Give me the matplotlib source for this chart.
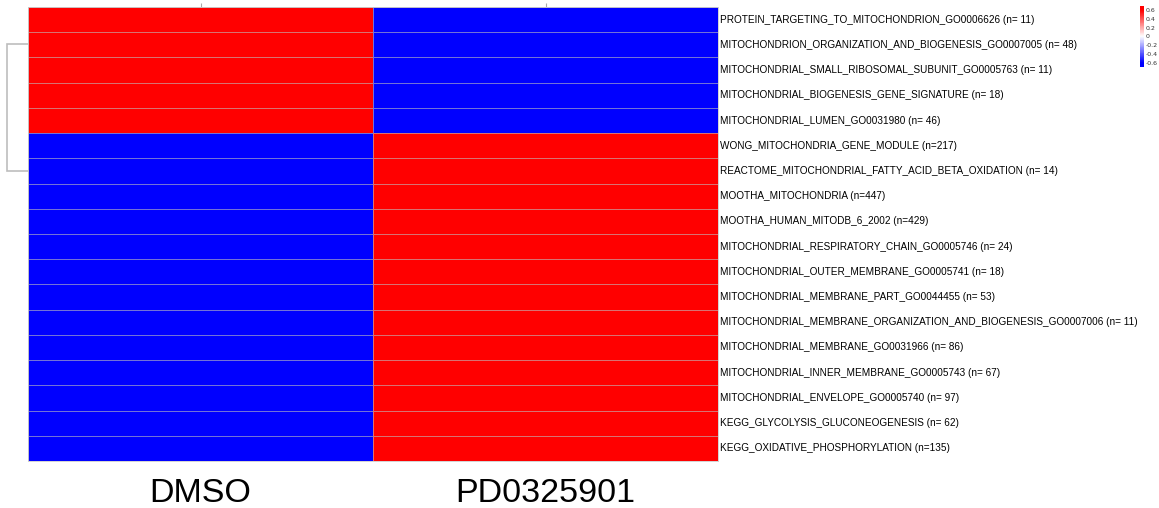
import numpy as np
import matplotlib
matplotlib.use("Agg")
import matplotlib.pyplot as plt
from matplotlib.colors import LinearSegmentedColormap

samples = ["DMSO", "PD0325901"]
gene_sets = [
    "PROTEIN_TARGETING_TO_MITOCHONDRION_GO0006626 (n= 11)",
    "MITOCHONDRION_ORGANIZATION_AND_BIOGENESIS_GO0007005 (n= 48)",
    "MITOCHONDRIAL_SMALL_RIBOSOMAL_SUBUNIT_GO0005763 (n= 11)",
    "MITOCHONDRIAL_BIOGENESIS_GENE_SIGNATURE (n= 18)",
    "MITOCHONDRIAL_LUMEN_GO0031980 (n= 46)",
    "WONG_MITOCHONDRIA_GENE_MODULE (n=217)",
    "REACTOME_MITOCHONDRIAL_FATTY_ACID_BETA_OXIDATION (n= 14)",
    "MOOTHA_MITOCHONDRIA (n=447)",
    "MOOTHA_HUMAN_MITODB_6_2002 (n=429)",
    "MITOCHONDRIAL_RESPIRATORY_CHAIN_GO0005746 (n= 24)",
    "MITOCHONDRIAL_OUTER_MEMBRANE_GO0005741 (n= 18)",
    "MITOCHONDRIAL_MEMBRANE_PART_GO0044455 (n= 53)",
    "MITOCHONDRIAL_MEMBRANE_ORGANIZATION_AND_BIOGENESIS_GO0007006 (n= 11)",
    "MITOCHONDRIAL_MEMBRANE_GO0031966 (n= 86)",
    "MITOCHONDRIAL_INNER_MEMBRANE_GO0005743 (n= 67)",
    "MITOCHONDRIAL_ENVELOPE_GO0005740 (n= 97)",
    "KEGG_GLYCOLYSIS_GLUCONEOGENESIS (n= 62)",
    "KEGG_OXIDATIVE_PHOSPHORYLATION (n=135)",
]
dmso = [0.6] * 5 + [-0.6] * 13
pd03 = [-0.6] * 5 + [0.6] * 13
cbar_ticks = [0.6, 0.4, 0.2, 0, -0.2, -0.4, -0.6]
# dendrogram arm positions (row units)
dend_top, dend_bottom = 1.45, 6.5

W, H = 1159, 508
fig = plt.figure(figsize=(W / 100, H / 100), dpi=100)

cmap = LinearSegmentedColormap.from_list("bwr2", ["#0000FF", "#FFFFFF", "#FF0000"])
data = np.array([dmso, pd03]).T

L, R, T, B = 28, 718, 7, 461
ax = fig.add_axes([L / W, 1 - B / H, (R - L) / W, (B - T) / H])
nrow = len(gene_sets)
ax.pcolormesh(np.arange(3), np.arange(nrow + 1), data, cmap=cmap, vmin=-0.6, vmax=0.6,
              edgecolors=(0.75, 0.75, 0.75, 0.6), linewidth=0.6)
ax.set_xlim(0, 2)
ax.set_ylim(nrow, 0)
for s in ax.spines.values():
    s.set_color("#cccccc")
    s.set_linewidth(0.6)
ax.xaxis.tick_top()
ax.set_xticks([0.5, 1.5])
ax.set_xticklabels([])
ax.tick_params(axis="x", direction="out", length=3, color="#aaaaaa", width=0.8)
ax.set_yticks([])
for i, name in enumerate(gene_sets):
    ax.text(2.005, i + 0.5, name, va="center", ha="left", fontsize=7.2,
            family=["Liberation Sans", "DejaVu Sans"])
for j, s in enumerate(samples):
    ax.text(j + 0.5, nrow + 1.27, s, ha="center", va="center", fontsize=24.5,
            family=["Liberation Sans Narrow", "Liberation Sans", "DejaVu Sans"])

# dendrogram
dax = fig.add_axes([0, 1 - B / H, L / W, (B - T) / H], sharey=ax)
dax.plot([1, 0.25, 0.25, 1], [dend_top, dend_top, dend_bottom, dend_bottom],
         color="#bdbdbd", lw=1.2, solid_joinstyle="miter")
dax.set_xlim(0, 1)
dax.axis("off")

# colorbar
cax = fig.add_axes([1140 / W, 1 - 67 / H, 3.5 / W, 61 / H])
vals = np.linspace(-0.7, 0.7, 141)
grad = np.clip(vals, -0.6, 0.6)
cax.pcolormesh([0, 1], vals, grad[:-1, None], cmap=cmap, vmin=-0.6, vmax=0.6)
cax.set_ylim(-0.7, 0.7)
cax.set_xlim(0, 1)
cax.set_xticks([])
cax.yaxis.tick_right()
cax.set_yticks(cbar_ticks)
cax.set_yticklabels(["0.6", "0.4", "0.2", "0", "-0.2", "-0.4", "-0.6"])
cax.tick_params(axis="y", length=0, pad=1.5, labelsize=4.5, labelcolor="#333333")
for s in cax.spines.values():
    s.set_visible(False)

fig.savefig("out.png", dpi=100)
